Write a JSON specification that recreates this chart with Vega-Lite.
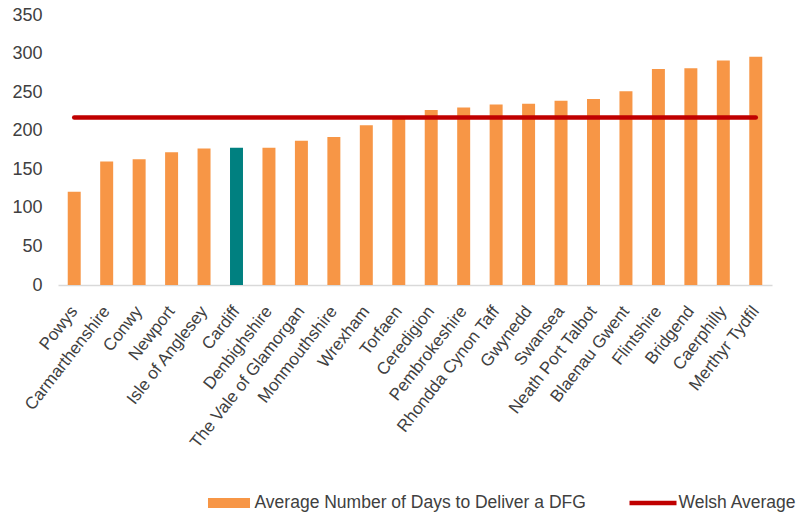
{
  "$schema": "https://vega.github.io/schema/vega-lite/v6.json",
  "width": 714,
  "height": 270,
  "autosize": {"type": "none"},
  "padding": {"left": 58, "top": 15, "right": 38, "bottom": 230},
  "background": "white",
  "config": {"view": {"stroke": null}, "font": "Liberation Sans"},
  "data": {"values": [
    {"district": "Powys", "days": 121, "group": "Average Number of Days to Deliver a DFG", "welsh": 217},
    {"district": "Carmarthenshire", "days": 160, "group": "Average Number of Days to Deliver a DFG", "welsh": 217},
    {"district": "Conwy", "days": 163, "group": "Average Number of Days to Deliver a DFG", "welsh": 217},
    {"district": "Newport", "days": 172, "group": "Average Number of Days to Deliver a DFG", "welsh": 217},
    {"district": "Isle of Anglesey", "days": 177, "group": "Average Number of Days to Deliver a DFG", "welsh": 217},
    {"district": "Cardiff", "days": 178, "group": "Cardiff", "welsh": 217},
    {"district": "Denbighshire", "days": 178, "group": "Average Number of Days to Deliver a DFG", "welsh": 217},
    {"district": "The Vale of Glamorgan", "days": 187, "group": "Average Number of Days to Deliver a DFG", "welsh": 217},
    {"district": "Monmouthshire", "days": 192, "group": "Average Number of Days to Deliver a DFG", "welsh": 217},
    {"district": "Wrexham", "days": 207, "group": "Average Number of Days to Deliver a DFG", "welsh": 217},
    {"district": "Torfaen", "days": 218, "group": "Average Number of Days to Deliver a DFG", "welsh": 217},
    {"district": "Ceredigion", "days": 227, "group": "Average Number of Days to Deliver a DFG", "welsh": 217},
    {"district": "Pembrokeshire", "days": 230, "group": "Average Number of Days to Deliver a DFG", "welsh": 217},
    {"district": "Rhondda Cynon Taff", "days": 234, "group": "Average Number of Days to Deliver a DFG", "welsh": 217},
    {"district": "Gwynedd", "days": 235, "group": "Average Number of Days to Deliver a DFG", "welsh": 217},
    {"district": "Swansea", "days": 239, "group": "Average Number of Days to Deliver a DFG", "welsh": 217},
    {"district": "Neath Port Talbot", "days": 241, "group": "Average Number of Days to Deliver a DFG", "welsh": 217},
    {"district": "Blaenau Gwent", "days": 251, "group": "Average Number of Days to Deliver a DFG", "welsh": 217},
    {"district": "Flintshire", "days": 280, "group": "Average Number of Days to Deliver a DFG", "welsh": 217},
    {"district": "Bridgend", "days": 281, "group": "Average Number of Days to Deliver a DFG", "welsh": 217},
    {"district": "Caerphilly", "days": 291, "group": "Average Number of Days to Deliver a DFG", "welsh": 217},
    {"district": "Merthyr Tydfil", "days": 296, "group": "Average Number of Days to Deliver a DFG", "welsh": 217}
  ]},
  "encoding": {
    "x": {
      "field": "district", "type": "nominal", "sort": null,
      "scale": {"paddingInner": 0.6, "paddingOuter": 0.3},
      "axis": {
        "title": null, "labelAngle": -52, "labelFontSize": 17, "labelColor": "#404040",
        "ticks": false, "domainColor": "#D9D9D9", "domainWidth": 1.5,
        "labelPadding": 23, "labelOverlap": false, "labelLimit": 0
      }
    }
  },
  "layer": [
    {
      "mark": {"type": "bar"},
      "encoding": {
        "y": {
          "field": "days", "type": "quantitative",
          "scale": {"domain": [0, 350], "nice": false},
          "axis": {
            "title": null, "values": [0, 50, 100, 150, 200, 250, 300, 350], "grid": false,
            "domain": false, "ticks": false, "labelFontSize": 18, "labelColor": "#404040",
            "labelPadding": 16, "labelOverlap": false, "labelFlush": false
          }
        },
        "color": {
          "field": "group", "type": "nominal",
          "scale": {
            "domain": ["Average Number of Days to Deliver a DFG", "Welsh Average", "Cardiff"],
            "range": ["#F79646", "#C00000", "#008080"]
          },
          "legend": {
            "title": null, "orient": "none", "legendX": 147.5, "legendY": 464.5, "direction": "horizontal",
            "values": ["Average Number of Days to Deliver a DFG", "Welsh Average"],
            "symbolSize": 2209, "labelFontSize": 17.5, "labelColor": "#404040", "labelLimit": 0,
            "columnPadding": 43, "labelOffset": 2, "padding": 0,
            "encode": {"symbols": {"update": {
              "shape": {"signal": "datum.value === 'Welsh Average' ? 'M-1,-0.096H1V0.096H-1Z' : 'M-0.894,-0.213H0.894V0.213H-0.894Z'"},
              "fill": {"scale": "color", "field": "value"},
              "stroke": {"value": "transparent"},
              "strokeWidth": {"value": 0},
              "opacity": {"value": 1}
            }}}
          }
        }
      }
    },
    {
      "mark": {"type": "line", "strokeWidth": 4.5, "strokeCap": "round"},
      "encoding": {
        "y": {
          "field": "welsh", "type": "quantitative",
          "scale": {"domain": [0, 350], "nice": false},
          "axis": {
            "title": null, "values": [0, 50, 100, 150, 200, 250, 300, 350], "grid": false,
            "domain": false, "ticks": false, "labelFontSize": 18, "labelColor": "#404040",
            "labelPadding": 16, "labelOverlap": false, "labelFlush": false
          }
        },
        "color": {"datum": "Welsh Average"}
      }
    }
  ]
}
